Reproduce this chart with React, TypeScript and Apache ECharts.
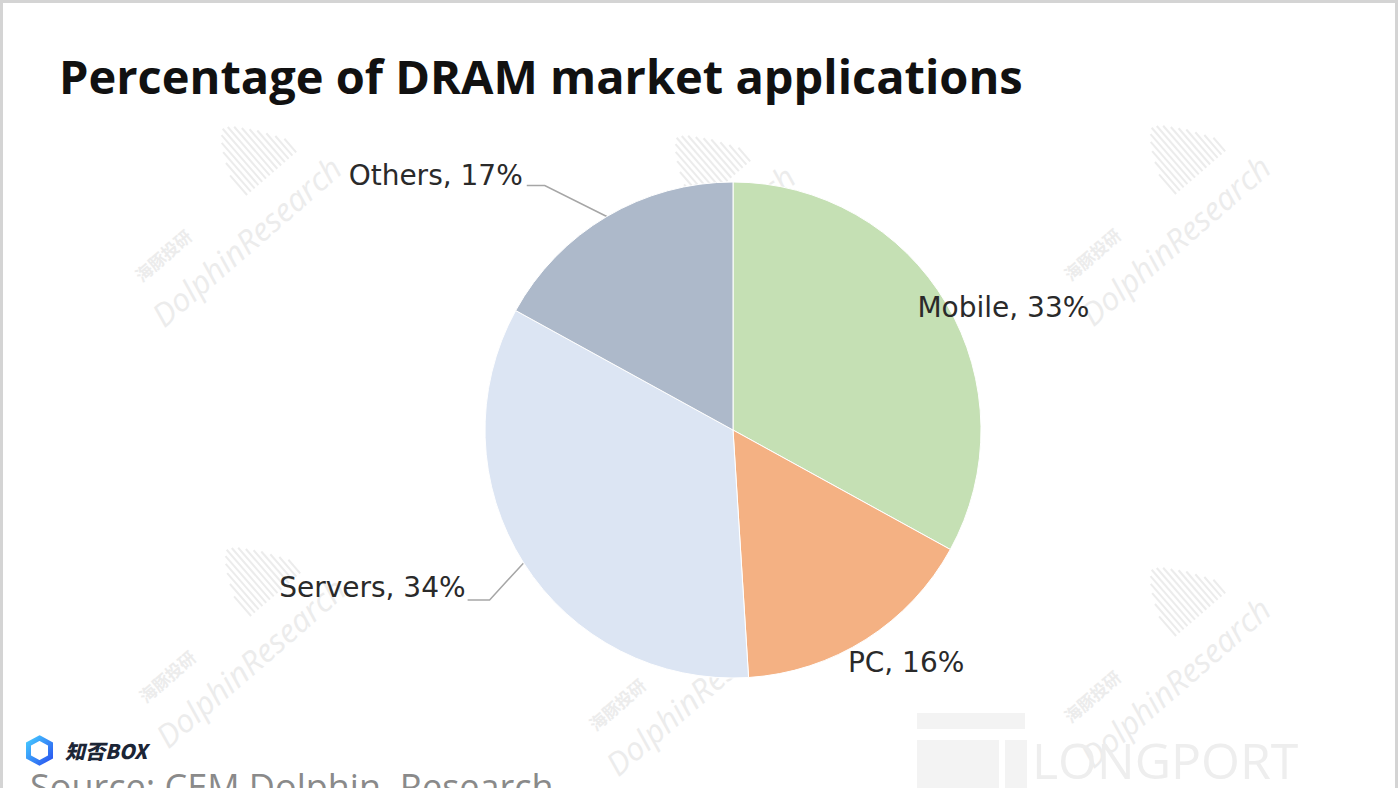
import React, { useEffect, useRef } from "react";
import * as echarts from "echarts";

// ---- data ----
const categories = ["Mobile", "PC", "Servers", "Others"];
const shares = [33, 16, 34, 17];
const sliceColors = ["#c5e0b4", "#f4b183", "#dce5f3", "#adb9ca"];
const titleText = "Percentage of DRAM market applications";
const sourceText = "Source: CEM Dolphin  Research";

// ---- layout / style ----
const CX = 733;
const CY = 430;
const R = 248;
const LABEL_FONT = "DejaVu Sans";

// label placement relative to the outer mid-point of each slice
const labelPlacement: any[] = [
  { dx: -29, dy: 4, align: "left", line: null },
  { dx: -18, dy: 23, align: "left", line: null },
  { dx: -58, dy: 25, align: "right", line: [[-34, 37], [-56, 37]] },
  { dx: -84, dy: -41, align: "right", line: [[-62, -31], [-80, -31]] },
];

const watermarkCenters = [
  [246, 241],
  [700, 250],
  [1175, 240],
  [250, 662],
  [700, 690],
  [1175, 682],
];
const barHeights = [26, 38, 48, 56, 62, 66, 64, 60, 54, 48, 42, 34, 26, 18];

function sliceEdge(i: number) {
  const total = shares.reduce((a, b) => a + b, 0);
  let cum = 0;
  for (let k = 0; k < i; k++) cum += shares[k];
  const a = ((cum + shares[i] / 2) / total) * Math.PI * 2;
  return [CX + R * Math.sin(a), CY - R * Math.cos(a)];
}

function watermark(cx: number, cy: number) {
  const wmColor = "#ececec";
  const children: any[] = [
    {
      type: "text",
      x: 0,
      y: 0,
      style: {
        text: "DolphinResearch",
        fill: wmColor,
        font: "italic 32px 'Open Sans'",
        align: "center",
        verticalAlign: "middle",
      },
    },
    {
      type: "text",
      x: -72,
      y: -44,
      style: {
        text: "海豚投研",
        fill: wmColor,
        font: "bold 17px 'Noto Sans CJK SC'",
        align: "center",
        verticalAlign: "middle",
      },
    },
  ];
  barHeights.forEach((h, k) => {
    children.push({
      type: "rect",
      shape: { x: 30 + k * 5, y: -34 - h, width: 2, height: h },
      style: { fill: wmColor },
    });
  });
  return {
    type: "group",
    x: cx,
    y: cy,
    rotation: (41 * Math.PI) / 180,
    z: 0,
    silent: true,
    children,
  };
}

export default function App() {
  const ref = useRef<HTMLDivElement>(null);

  useEffect(() => {
    if (!ref.current) return;
    const chart = echarts.init(ref.current, null, { renderer: "svg" });

    const data = categories.map((name, i) => ({
      name,
      value: shares[i],
      itemStyle: { color: sliceColors[i] },
      labelLine: { show: !!labelPlacement[i].line },
    }));

    const graphics: any[] = [];
    watermarkCenters.forEach(([x, y]) => graphics.push(watermark(x, y)));

    // LONGPORT watermark
    graphics.push({
      type: "group",
      z: 0,
      silent: true,
      children: [
        { type: "rect", shape: { x: 917, y: 713, width: 108, height: 16 }, style: { fill: "#f3f3f3" } },
        { type: "rect", shape: { x: 917, y: 740, width: 82, height: 50 }, style: { fill: "#f3f3f3" } },
        { type: "rect", shape: { x: 1005, y: 740, width: 22, height: 50 }, style: { fill: "#f3f3f3" } },
        {
          type: "text",
          x: 1032,
          y: 760,
          style: {
            text: "LONGPORT",
            fill: "#eeeeee",
            font: "50px 'Open Sans'",
            align: "left",
            verticalAlign: "middle",
          },
        },
      ],
    });

    // 知否BOX logo
    graphics.push({
      type: "group",
      z: 10,
      children: [
        {
          type: "polygon",
          shape: {
            points: [
              [39.5, 738],
              [50.5, 744],
              [50.5, 757],
              [39.5, 763],
              [28.5, 757],
              [28.5, 744],
            ],
          },
          style: {
            fill: "none",
            lineWidth: 5,
            stroke: new echarts.graphic.LinearGradient(0, 0, 1, 1, [
              { offset: 0, color: "#45c8ff" },
              { offset: 1, color: "#2a55f0" },
            ]),
          },
        },
        {
          type: "text",
          x: 65,
          y: 750,
          style: {
            text: "知否BOX",
            fill: "#1c2536",
            font: "italic 900 20px 'Noto Sans CJK SC'",
            align: "left",
            verticalAlign: "middle",
          },
        },
      ],
    });

    // source line
    graphics.push({
      type: "text",
      x: 30,
      y: 768,
      z: 10,
      style: {
        text: sourceText,
        fill: "#8a8a8a",
        font: "36px 'Open Sans'",
        align: "left",
        verticalAlign: "top",
      },
    });

    // outer frame
    graphics.push({
      type: "rect",
      z: 20,
      silent: true,
      shape: { x: 1.5, y: 1.5, width: 1395, height: 800 },
      style: { fill: "none", stroke: "#d4d4d4", lineWidth: 3 },
    });

    chart.setOption({
      animation: false,
      backgroundColor: "#ffffff",
      title: {
        text: titleText,
        left: 54,
        top: 47,
        textStyle: {
          fontFamily: "Open Sans",
          fontWeight: "bold",
          fontSize: 47,
          color: "#111111",
        },
      },
      graphic: { elements: graphics },
      series: [
        {
          type: "pie",
          z: 5,
          center: [CX, CY],
          radius: R,
          startAngle: 90,
          clockwise: true,
          avoidLabelOverlap: false,
          itemStyle: { borderColor: "#ffffff", borderWidth: 1 },
          label: {
            show: true,
            position: "outside",
            formatter: "{b}, {c}%",
            fontFamily: LABEL_FONT,
            fontSize: 28,
            color: "#2a2a2a",
          },
          labelLine: {
            show: true,
            lineStyle: { color: "#a6a6a6", width: 1.5 },
          },
          labelLayout: (params: any) => {
            const i = params.dataIndex;
            const p = labelPlacement[i];
            const [ex, ey] = sliceEdge(i);
            const out: any = {
              x: ex + p.dx,
              y: ey + p.dy,
              align: p.align,
              verticalAlign: "middle",
            };
            if (p.line) {
              out.labelLinePoints = [
                [ex, ey],
                [ex + p.line[0][0], ey + p.line[0][1]],
                [ex + p.line[1][0], ey + p.line[1][1]],
              ];
            }
            return out;
          },
          data,
        },
      ],
    });

    return () => chart.dispose();
  }, []);

  return (
    <div
      ref={ref}
      style={{ position: "fixed", left: 0, top: 0, width: 1400, height: 788 }}
    />
  );
}
